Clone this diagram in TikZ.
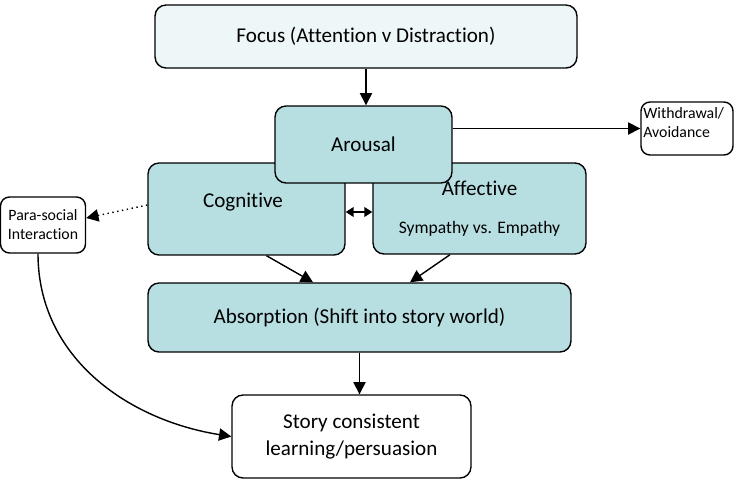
\documentclass[tikz,border=0pt]{standalone}
\usepackage{fontspec}
\setmainfont{Carlito}[Ligatures=NoCommon]
\usetikzlibrary{positioning,arrows.meta}
\definecolor{tealbox}{HTML}{B7DFE1}
\definecolor{focusbox}{HTML}{EEF7F8}

\begin{document}
\begin{tikzpicture}[
    x=0.02cm,
    y=-0.02cm,
    box/.style={
        rectangle,
        draw,
        rounded corners=0.22cm,
        line width=0.8pt,
        align=center,
        font=\fontsize{12}{15}\selectfont
    },
    smallbox/.style={
        rectangle,
        draw,
        rounded corners=0.18cm,
        line width=0.8pt,
        align=center,
        font=\fontsize{9}{10.8}\selectfont
    },
    arrow/.style={
        -{Triangle[length=7pt,width=7pt]},
        line width=0.8pt
    }
]
\useasboundingbox (0,0) rectangle (738,494);

\node[box, fill=focusbox, minimum width=8.44cm, minimum height=1.26cm] (focus) at (366,36.5)
{Focus (Attention v Distraction)};

\node[box, fill=tealbox, minimum width=3.94cm, minimum height=1.84cm] (cog) at (246.5,209) {};
\node[font=\fontsize{12}{14.4}\selectfont] (coglabel) at (243,202) {Cognitive};

\node[box, fill=tealbox, minimum width=4.26cm, minimum height=1.82cm] (aff) at (479.5,208.5)
{Affective\\[7pt]{\fontsize{10}{12}\selectfont Sympathy vs. Empathy}};

\node[box, fill=tealbox, minimum width=3.54cm, minimum height=1.54cm] (arousal) at (363.5,144.5)
{Arousal};

\node[box, fill=tealbox, minimum width=8.46cm, minimum height=1.38cm] (absorb) at (359.5,317.5)
{Absorption (Shift into story world)};

\node[box, fill=white, minimum width=4.78cm, minimum height=1.66cm] (story) at (351.5,436.5)
{Story consistent\\learning/persuasion};

\node[smallbox, fill=white, minimum width=1.7cm, minimum height=1.12cm] (para) at (43,225)
{Para-social\\Interaction};

\node[smallbox, fill=white, minimum width=1.84cm, minimum height=1.06cm] (withdraw) at (687,128.5) {};
\node[font=\fontsize{9}{10.8}\selectfont, align=left, anchor=north west, inner sep=0pt] (withdrawlabel) at (643,107)
{Withdrawal/\\Avoidance};

% connectors
\draw[arrow] (focus.south) -- (focus.south |- arousal.north);
\draw[arrow] (arousal.east |- withdraw.west) -- (withdraw.west);
\draw[arrow, dotted] ([yshift=0.08cm]cog.west) -- ([yshift=0.14cm]para.east);
\draw[{Triangle[length=4.5pt,width=5.5pt]}-{Triangle[length=4.5pt,width=5.5pt]}, line width=0.8pt]
    ([yshift=-0.06cm]cog.east) -- ([yshift=-0.06cm]cog.east -| aff.west);
\draw[arrow] ([xshift=0.4cm]cog.south) -- ([xshift=-0.93cm]absorb.north);
\draw[arrow] ([xshift=-0.59cm]aff.south) -- ([xshift=1.01cm]absorb.north);
\draw[arrow] (absorb.south) -- (absorb.south |- story.north);
\draw[arrow] ([xshift=-0.1cm]para.south) to[out=-90, in=171] (story.west);

\end{tikzpicture}
\end{document}
